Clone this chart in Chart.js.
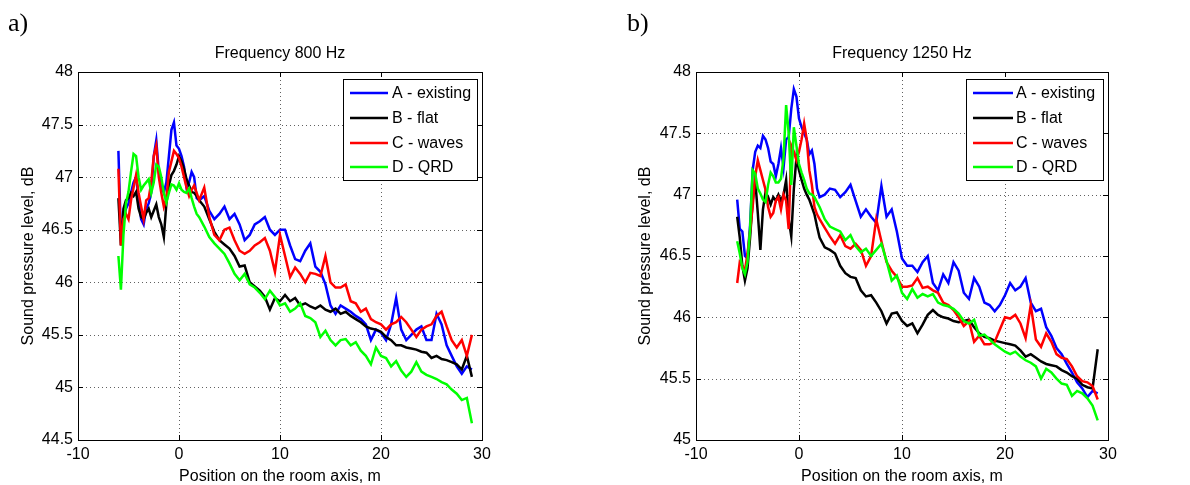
<!DOCTYPE html>
<html><head><meta charset="utf-8">
<script src="https://cdn.jsdelivr.net/npm/chart.js@4.4.1/dist/chart.umd.min.js"></script>
<style>
html,body{margin:0;padding:0;background:#fff;}
#wrap{position:relative;width:1190px;height:485px;overflow:hidden;background:#fff;}
canvas{position:absolute;top:0;}
</style></head><body>
<div id="wrap">
<canvas id="ca" width="595" height="485" style="left:0;width:595px;height:485px"></canvas>
<canvas id="cb" width="595" height="485" style="left:595px;width:595px;height:485px"></canvas>
</div>
<script>
// Position on the room axis, m
const X = [-6,-5.75,-5.5,-5.25,-5,-4.75,-4.5,-4.25,-4,-3.75,-3.5,-3.25,-3,-2.75,-2.5,-2.25,-2,-1.75,-1.5,-1.25,-1,-0.75,-0.5,-0.25,0,0.25,0.5,0.75,1,1.25,1.5,1.75,2,
  2.5,3,3.5,4,4.5,5,5.5,6,6.5,7,7.5,8,8.5,9,9.5,10,10.5,11,11.5,12,12.5,13,13.5,14,14.5,15,15.5,16,16.5,17,17.5,18,18.5,19,19.5,20,20.5,21,21.5,22,22.5,23,23.5,24,24.5,25,25.5,26,26.5,27,27.5,28,28.5,29];

const LABELS = ['A - existing','B - flat','C - waves','D - QRD'];
const X_TICKS = [-10,0,10,20,30];
const Y_TICKS_800 = [44.5,45,45.5,46,46.5,47,47.5,48];
const Y_TICKS_1250 = [45,45.5,46,46.5,47,47.5,48];

// Frequency 800 Hz
const A800 = [47.25,46.45,46.6,46.7,46.75,46.85,46.95,47.0,46.8,46.6,46.55,46.7,46.75,46.85,47.2,47.35,47.05,46.9,46.85,46.95,47.2,47.45,47.52,47.3,47.27,47.2,47.1,46.9,46.95,47.05,47.0,46.8,46.78,
  46.82,46.68,46.6,46.65,46.72,46.6,46.65,46.55,46.4,46.45,46.55,46.58,46.62,46.5,46.45,46.5,46.5,46.35,46.22,46.2,46.3,46.37,46.15,46.1,45.98,45.78,45.7,45.78,45.75,45.72,45.68,45.65,45.6,45.45,45.55,45.52,45.45,45.6,45.85,45.55,45.45,45.5,45.55,45.58,45.45,45.45,45.7,45.6,45.4,45.3,45.2,45.13,45.2,45.17];
const B800 = [46.8,46.35,46.7,46.78,46.8,46.85,46.82,46.86,46.7,46.62,46.6,46.66,46.7,46.62,46.68,46.74,46.62,46.55,46.43,46.75,46.92,47.02,47.06,47.12,47.2,47.15,47.08,46.98,46.92,46.86,46.85,46.82,46.78,
  46.72,46.6,46.48,46.4,46.36,46.32,46.25,46.15,46.16,46.0,45.96,45.92,45.86,45.74,45.85,45.82,45.88,45.82,45.85,45.78,45.8,45.77,45.75,45.78,45.74,45.72,45.75,45.7,45.72,45.68,45.65,45.62,45.58,45.56,45.55,45.53,45.48,45.45,45.4,45.4,45.38,45.37,45.36,45.34,45.33,45.28,45.3,45.27,45.26,45.24,45.22,45.17,45.3,45.1];
const C800 = [47.08,46.35,46.6,46.65,46.6,46.78,46.9,47.02,46.85,46.72,46.6,46.78,46.8,46.95,47.2,47.3,47.0,46.85,46.72,46.8,47.05,47.15,47.25,47.22,47.18,47.1,47.0,46.9,46.82,46.88,46.92,46.85,46.78,
  46.9,46.62,46.45,46.4,46.5,46.52,46.4,46.3,46.27,46.3,46.35,46.38,46.42,46.3,46.1,46.45,46.25,46.05,46.14,46.08,46.0,46.09,46.08,46.06,46.25,46.0,45.95,45.95,45.98,45.82,45.8,45.72,45.75,45.65,45.62,45.6,45.55,45.6,45.62,45.67,45.62,45.55,45.48,45.55,45.58,45.6,45.68,45.72,45.58,45.45,45.38,45.45,45.3,45.5];
const D800 = [46.25,45.93,46.45,46.75,46.86,47.05,47.22,47.2,47.0,46.88,46.92,46.95,46.98,46.85,46.95,47.12,47.1,47.0,46.85,46.76,46.85,46.93,46.92,46.88,46.94,46.88,46.86,46.85,46.89,46.8,46.72,46.65,46.62,
  46.53,46.43,46.37,46.32,46.27,46.18,46.08,46.02,46.08,45.98,45.95,45.9,45.84,45.92,45.86,45.78,45.8,45.72,45.75,45.8,45.68,45.66,45.62,45.48,45.54,45.45,45.4,45.45,45.46,45.4,45.43,45.35,45.3,45.22,45.38,45.3,45.28,45.2,45.25,45.16,45.1,45.15,45.24,45.15,45.12,45.1,45.08,45.05,45.03,44.98,44.94,44.88,44.9,44.66];

// Frequency 1250 Hz
const A1250 = [46.96,46.72,46.7,46.5,46.48,46.75,47.2,47.35,47.4,47.38,47.48,47.45,47.38,47.27,47.25,47.15,47.25,47.38,47.22,47.45,47.47,47.7,47.86,47.8,47.62,47.55,47.5,47.45,47.33,47.36,47.25,47.05,46.98,
  47.0,47.05,47.04,46.98,47.02,47.08,46.95,46.82,46.88,46.82,46.77,47.07,46.82,46.88,46.7,46.48,46.42,46.42,46.37,46.45,46.5,46.28,46.22,46.35,46.28,46.45,46.38,46.2,46.15,46.32,46.25,46.12,46.1,46.05,46.1,46.18,46.28,46.22,46.25,46.32,46.12,46.05,46.07,45.92,45.85,45.75,45.7,45.62,45.55,45.47,45.42,45.35,45.4,45.38];
const B1250 = [46.82,46.65,46.42,46.3,46.4,46.65,46.95,47.12,46.85,46.55,46.88,47.02,46.98,46.92,46.98,46.95,47.0,46.95,47.0,47.12,46.8,46.66,47.05,47.3,47.2,47.12,47.05,47.0,46.96,46.9,46.84,46.74,46.65,
  46.57,46.55,46.52,46.42,46.36,46.33,46.32,46.22,46.17,46.18,46.12,46.05,45.95,46.03,46.04,45.97,45.93,45.95,45.87,45.94,46.02,46.06,46.02,46.0,45.99,45.97,45.96,45.97,45.98,45.92,45.87,45.84,45.83,45.81,45.8,45.79,45.78,45.77,45.73,45.68,45.7,45.67,45.64,45.62,45.61,45.6,45.57,45.55,45.52,45.5,45.45,45.43,45.42,45.74];
const C1250 = [46.28,46.45,46.42,46.38,46.52,46.7,46.9,47.15,47.28,47.2,47.12,47.04,46.9,46.82,46.85,46.95,46.98,46.88,47.0,46.95,46.72,47.4,47.35,47.28,47.35,47.45,47.58,47.45,47.2,47.08,46.9,46.84,46.8,
  46.73,46.66,46.6,46.67,46.58,46.56,46.6,46.55,46.42,46.5,46.8,46.62,46.45,46.38,46.33,46.25,46.25,46.26,46.32,46.24,46.25,46.22,46.2,46.12,46.1,46.06,46.0,45.93,45.97,45.8,45.85,45.78,45.78,45.8,45.9,46.0,45.99,46.02,45.95,45.83,46.1,45.82,45.76,45.87,45.8,45.7,45.67,45.66,45.6,45.52,45.48,45.47,45.44,45.33];
const D1250 = [46.62,46.52,46.4,46.35,46.45,46.72,47.2,47.17,47.05,47.01,46.96,46.94,47.08,47.18,47.15,47.1,47.1,47.13,47.3,47.73,47.5,47.08,47.55,47.4,47.25,47.18,47.12,47.05,47.01,47.0,46.98,46.94,46.9,
  46.8,46.74,46.72,46.7,46.63,46.67,46.58,46.53,46.56,46.5,46.55,46.6,46.46,46.3,46.34,46.2,46.15,46.23,46.16,46.19,46.17,46.19,46.12,46.1,46.09,46.07,46.03,45.97,45.95,45.98,45.85,45.86,45.82,45.78,45.75,45.72,45.7,45.72,45.68,45.65,45.63,45.6,45.5,45.58,45.55,45.5,45.46,45.45,45.36,45.4,45.38,45.34,45.28,45.16];

const COLORS = ['#0000ff','#000000','#ff0000','#00ff00'];

Chart.defaults.font.family = '"Liberation Sans", Arial, sans-serif';
Chart.defaults.font.size = 16;
Chart.defaults.color = '#000';

const deco = {
  id: 'deco',
  beforeDatasetsDraw(chart, args, o) {
    const {ctx, chartArea: a, scales: {x, y}} = chart;
    ctx.save();
    ctx.strokeStyle = 'rgba(0,0,0,0.62)';
    ctx.lineWidth = 1;
    ctx.setLineDash([1, 3]);
    x.ticks.forEach(t => {
      if (t.value <= x.min || t.value >= x.max) return;
      const px = Math.round(x.getPixelForValue(t.value)) + 0.5;
      ctx.beginPath(); ctx.moveTo(px, a.top); ctx.lineTo(px, a.bottom); ctx.stroke();
    });
    y.ticks.forEach(t => {
      if (t.value <= y.min || t.value >= y.max) return;
      const py = Math.round(y.getPixelForValue(t.value)) + 0.5;
      ctx.beginPath(); ctx.moveTo(a.left, py); ctx.lineTo(a.right, py); ctx.stroke();
    });
    ctx.restore();
  },
  afterDraw(chart, args, o) {
    const {ctx, chartArea: a, scales: {x, y}} = chart;
    ctx.save();
    ctx.strokeStyle = '#000';
    ctx.lineWidth = 1;
    ctx.setLineDash([]);
    ctx.strokeRect(Math.round(a.left) + 0.5, Math.round(a.top) + 0.5, Math.round(a.right - a.left), Math.round(a.bottom - a.top));
    const tl = 5;
    ctx.beginPath();
    x.ticks.forEach(t => {
      const px = Math.round(x.getPixelForValue(t.value)) + 0.5;
      ctx.moveTo(px, a.bottom); ctx.lineTo(px, a.bottom - tl);
      ctx.moveTo(px, a.top); ctx.lineTo(px, a.top + tl);
    });
    y.ticks.forEach(t => {
      const py = Math.round(y.getPixelForValue(t.value)) + 0.5;
      ctx.moveTo(a.left, py); ctx.lineTo(a.left + tl, py);
      ctx.moveTo(a.right, py); ctx.lineTo(a.right - tl, py);
    });
    ctx.stroke();
    const L = o.legend;
    ctx.fillStyle = '#fff';
    ctx.fillRect(L.x, L.y, L.w, L.h);
    ctx.strokeStyle = '#000';
    ctx.strokeRect(L.x + 0.5, L.y + 0.5, L.w, L.h);
    ctx.font = '16px "Liberation Sans", Arial, sans-serif';
    ctx.textBaseline = 'middle';
    ctx.textAlign = 'left';
    chart.data.datasets.forEach((ds, i) => {
      const ry = L.rows[i];
      ctx.strokeStyle = ds.borderColor;
      ctx.lineWidth = 2.5;
      ctx.beginPath(); ctx.moveTo(L.x1, ry); ctx.lineTo(L.x2, ry); ctx.stroke();
      ctx.fillStyle = '#000';
      ctx.fillText(ds.label, L.tx, ry + 1);
    });
    const cx = (a.left + a.right) / 2;
    ctx.fillStyle = '#000';
    ctx.textAlign = 'center';
    ctx.textBaseline = 'alphabetic';
    ctx.font = '16px "Liberation Sans", Arial, sans-serif';
    ctx.fillText(o.title, cx, 58);
    ctx.fillText(o.xTitle, cx, 481);
    ctx.save();
    ctx.translate(o.yTitleX, (a.top + a.bottom) / 2);
    ctx.rotate(-Math.PI / 2);
    ctx.fillText(o.yTitle, 0, 0);
    ctx.restore();
    ctx.textAlign = 'left';
    ctx.font = '26px "Liberation Serif", "Times New Roman", serif';
    ctx.fillText(o.panel, o.panelX, 31);
    ctx.restore();
  }
};

function makeChart(id, series, yTicks, leftW, rightPad, pluginOpts) {
  const datasets = series.map((s, i) => ({
    label: LABELS[i],
    data: X.map((xv, k) => ({x: xv, y: s[k]})),
    borderColor: COLORS[i],
    borderWidth: 2.5,
    pointRadius: 0,
    tension: 0,
    fill: false,
    order: 3 - i
  }));
  return new Chart(document.getElementById(id), {
    type: 'line',
    data: {datasets},
    options: {
      responsive: false,
      animation: false,
      devicePixelRatio: 1,
      events: [],
      layout: {padding: {left: 0, right: rightPad, top: 72, bottom: 0}},
      plugins: {
        legend: {display: false},
        tooltip: {enabled: false},
        title: {display: false},
        deco: pluginOpts
      },
      scales: {
        x: {
          type: 'linear',
          min: X_TICKS[0], max: X_TICKS[X_TICKS.length - 1],
          afterBuildTicks: s => { s.ticks = X_TICKS.map(v => ({value: v})); },
          ticks: {padding: 5, maxRotation: 0, autoSkip: false, color: '#000', font: {size: 16}, callback: v => String(v)},
          grid: {display: false, drawTicks: false},
          border: {display: false},
          afterFit: s => { s.height = 45; }
        },
        y: {
          type: 'linear',
          min: yTicks[0], max: yTicks[yTicks.length - 1],
          afterBuildTicks: s => { s.ticks = yTicks.map(v => ({value: v})); },
          ticks: {padding: 5, autoSkip: false, color: '#000', font: {size: 16}, callback: v => String(v)},
          grid: {display: false, drawTicks: false},
          border: {display: false},
          afterFit: s => { s.width = leftW; }
        }
      }
    },
    plugins: [deco]
  });
}

makeChart('ca', [A800, B800, C800, D800], Y_TICKS_800, 78, 113, {
  title: 'Frequency 800 Hz',
  xTitle: 'Position on the room axis, m',
  yTitle: 'Sound pressure level, dB',
  yTitleX: 33,
  panel: 'a)', panelX: 8,
  legend: {x: 343, y: 79, w: 134, h: 101, x1: 350, x2: 388, tx: 392, rows: [93, 118, 143, 167]}
});
makeChart('cb', [A1250, B1250, C1250, D1250], Y_TICKS_1250, 101, 82, {
  title: 'Frequency 1250 Hz',
  xTitle: 'Position on the room axis, m',
  yTitle: 'Sound pressure level, dB',
  yTitleX: 55,
  panel: 'b)', panelX: 32,
  legend: {x: 371, y: 79, w: 137, h: 101, x1: 378, x2: 418, tx: 421, rows: [93, 118, 143, 167]}
});
</script>
</body></html>
